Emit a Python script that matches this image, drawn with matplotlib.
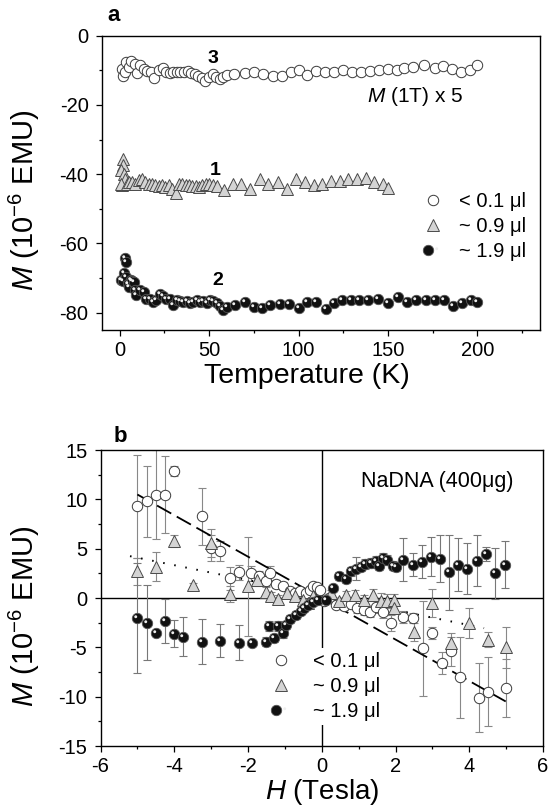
import numpy as np
import matplotlib
matplotlib.use("Agg")
import matplotlib.pyplot as plt
from matplotlib.path import Path
from matplotlib.legend_handler import HandlerTuple

plt.rcParams['font.family'] = ['Liberation Sans', 'DejaVu Sans']
plt.rcParams['mathtext.fontset'] = 'custom'
plt.rcParams['mathtext.rm'] = 'Liberation Sans'
plt.rcParams['mathtext.it'] = 'Liberation Sans:italic'
plt.rcParams['axes.unicode_minus'] = False

# ---- panel a : M(T) at 1 T ----
T_c = [1.5, 2, 3, 3.5, 5, 6.5, 8.5, 10, 11.5, 13.5, 15.5, 17.5, 19, 22, 24, 26, 28, 30, 32, 34,
       36, 38, 40, 42, 44, 46, 48, 50, 52, 54, 56, 58, 60, 64, 70, 75, 80, 86, 91, 96,
       100, 105, 110, 115, 120, 125, 130, 135, 140, 145, 150, 155, 159, 164, 170, 176, 181, 186, 191, 196, 200]
M_c = [-9.6, -11.6, -10.5, -7.7, -9.1, -7.2, -8.2, -10.8, -8.6, -9.6, -10.1, -10.4, -12.3, -9.8, -9.4, -10.4, -10.8, -10.6, -10.6, -10.4,
       -10.4, -10.1, -10.8, -11.1, -11.6, -12.2, -13.0, -11.8, -11.1, -12.0, -12.5, -11.8, -11.4, -11.1, -10.9, -10.6, -11.1, -11.7, -11.6, -10.6,
       -9.8, -11.4, -10.1, -10.4, -10.4, -9.8, -10.6, -10.4, -10.1, -9.8, -9.6, -9.8, -9.4, -9.1, -8.6, -9.4, -8.8, -9.6, -10.4, -9.8, -8.6]

T_t = [1.5, 2, 2, 1, 2.5, 3, 1, 4, 5, 6.8, 8.7, 10.6, 12.5, 14.3, 16.2, 18.1, 20, 21.9, 23.8, 25.6,
       27.5, 29.4, 31.3, 33.2, 35, 36.9, 38.8, 40.7, 42.6, 44.4, 46.3, 48.2, 50.1, 52.4, 54.3, 58.6, 63.3, 68, 72.7, 78.4,
       83.1, 88.7, 93.4, 98.8, 103.5, 108.4, 113.2, 118, 123, 127.8, 132.7, 137.5, 142.4, 147.3, 150]
M_t = [-43.0, -35.7, -37.3, -38.8, -39.8, -41.3, -42.7, -42.7, -42.2, -42.2, -42.7, -41.8, -41.5, -42.2, -42.7, -42.7, -43.2, -43.5, -43.2, -43.7,
       -43.2, -44.2, -45.5, -42.7, -42.7, -43.2, -43.2, -43.5, -43.5, -43.7, -43.2, -42.7, -42.7, -43.2, -43.5, -44.6, -42.7, -42.7, -44.4, -41.5,
       -42.7, -42.2, -44.2, -41.4, -42.2, -43.2, -42.9, -41.9, -41.9, -41.4, -41.3, -41.0, -42.2, -42.9, -43.9]

T_s = [1, 1.8, 2.4, 3.2, 3.5, 3.8, 4.7, 5.5, 6.2, 7, 8, 8.8, 9.4, 11.2, 13.7, 15, 16.9, 18.7, 20.6, 22.5,
       24.3, 26.2, 28.1, 30, 31.8, 33.7, 35.6, 37.5, 39.3, 41.2, 43.1, 45, 46.8, 48.7, 50.6, 52.4, 54.3, 56.2, 58, 59.9,
       64.6, 70.2, 74.9, 79.6, 84.3, 89.9, 94.6, 100.2, 104.9, 110, 115.2, 119.9, 124.5, 129.2, 133.9, 138.6, 144.6, 150, 155.4, 160.6,
       165.7, 171.3, 176, 181.2, 186.3, 191.4, 196.6, 200]
M_s = [-70.6, -70.8, -68.5, -64.3, -65.2, -69.6, -71.6, -72.5, -70.4, -70.9, -71.1, -73.3, -74.9, -73.5, -74.0, -75.9, -75.9, -76.9, -76.4, -74.5,
       -75.2, -75.9, -75.9, -77.8, -76.4, -76.6, -76.9, -76.6, -77.2, -76.9, -76.4, -76.9, -76.6, -77.2, -76.4, -76.6, -77.2, -78.1, -79.1, -78.4,
       -77.9, -76.9, -78.4, -78.6, -77.9, -77.4, -77.5, -78.5, -76.9, -76.9, -78.8, -77.2, -76.2, -76.4, -76.4, -76.2, -75.9, -77.2, -75.4, -76.9,
       -76.4, -76.4, -76.4, -76.2, -78.1, -77.2, -76.2, -76.9]

# ---- panel b : M(H) ----
H_c = [-5.0, -4.75, -4.5, -4.25, -4.0, -3.25, -3.0, -2.75, -2.5, -2.25, -1.92, -1.7, -1.5, -1.4, -1.25, -1.05, -0.85, -0.72, -0.58, -0.44,
       -0.33, -0.24, -0.14, -0.05, 0.07, 0.2, 0.39, 0.6, 0.8, 0.95, 1.15, 1.3, 1.47, 1.65, 1.88, 2.2, 2.46, 2.75, 3.0, 3.25,
       3.5, 3.75, 4.25, 4.5, 5.0]
Mb_c = [9.3, 9.8, 10.5, 10.5, 12.9, 8.3, 5.1, 4.8, 2.0, 2.6, 2.5, 2.2, 1.7, 2.5, 1.4, 1.2, 0.7, 0.5, 0.7, 0.5,
        0.8, 1.2, 1.1, 0.8, -0.3, 0.0, -0.7, -0.8, -0.6, -1.0, -1.2, -1.4, -0.9, -1.4, -2.5, -1.9, -2.0, -5.1, -3.5, -6.6,
        -5.4, -8.0, -10.1, -9.5, -9.1]
E_c = [5.2, 3.6, 4.5, 3.9, 0.5, 2.9, 1.3, 1.0, 1.2, 0.8, 0.8, 0.5, 0.5, 0.8, 0.4, 0.4, 0.3, 0.3, 0.3, 0.3,
       0.3, 0.3, 0.3, 0.3, 0.3, 0.3, 0.3, 0.4, 0.4, 0.5, 0.5, 0.5, 0.6, 0.6, 0.8, 0.6, 0.5, 4.8, 0.6, 1.1,
       1.5, 4.1, 3.5, 3.5, 2.9]

H_t = [-5.0, -4.5, -4.0, -3.5, -3.0, -2.5, -2.0, -1.75, -1.5, -1.38, -1.18, -0.95, -0.72, -0.52, -0.38, -0.24, 0.25, 0.47, 0.66, 0.89,
       1.15, 1.38, 1.6, 1.78, 1.96, 1.96, 2.5, 3.0, 3.5, 4.0, 4.5, 5.0]
Mb_t = [2.7, 3.2, 5.8, 1.3, 5.6, 0.4, 1.2, 1.8, 0.6, 0.2, -0.1, 0.5, 0.2, -0.2, -0.5, 0.2, 0.5, -0.3, 0.3, 0.3,
        -0.2, 0.3, -0.3, -0.3, -0.2, -1.0, -3.4, -0.5, -4.5, -2.5, -4.2, -5.0]
E_t = [1.4, 1.5, 0.6, 0.2, 1.4, 0.8, 5.0, 0.6, 0.5, 0.4, 0.4, 0.4, 0.3, 0.3, 0.3, 0.3, 0.3, 0.3, 0.4, 0.5,
       0.5, 0.6, 0.8, 0.7, 0.6, 0.6, 0.9, 1.4, 1.0, 1.5, 0.8, 2.1]

H_s = [-5.0, -4.75, -4.5, -4.25, -4.0, -3.75, -3.25, -2.75, -2.25, -1.9, -1.5, -1.42, -1.3, -1.18, -1.06, -0.97, -0.85, -0.71, -0.57, -0.47,
       -0.38, -0.24, -0.1, 0.12, 0.3, 0.48, 0.66, 0.79, 0.93, 1.06, 1.18, 1.33, 1.47, 1.56, 1.65, 1.78, 1.92, 2.01, 2.21, 2.46,
       2.71, 2.96, 3.2, 3.46, 3.7, 3.94, 4.2, 4.46, 4.71, 4.96]
Mb_s = [-2.0, -2.5, -3.5, -2.3, -3.6, -3.9, -4.4, -4.3, -4.5, -4.5, -4.4, -2.8, -4.0, -2.8, -3.5, -2.7, -2.1, -1.7, -1.35, -1.0,
        -0.7, -0.35, -0.2, -0.2, 1.0, 2.2, 1.9, 2.7, 3.0, 3.2, 3.5, 3.6, 3.8, 3.3, 4.1, 3.9, 3.3, 3.2, 3.9, 3.4,
        3.7, 4.2, 4.0, 2.6, 3.4, 3.0, 3.8, 4.5, 2.5, 3.4]
E_s = [5.6, 3.8, 0.0, 2.2, 1.4, 2.0, 2.3, 1.7, 1.8, 0.0, 0.5, 0.5, 0.4, 0.5, 0.5, 0.4, 0.4, 0.4, 0.3, 0.3,
       0.3, 0.3, 0.3, 0.3, 0.3, 0.4, 0.4, 0.5, 1.2, 0.5, 0.5, 0.5, 0.5, 0.5, 0.5, 0.5, 0.5, 0.5, 2.2, 1.2,
       1.7, 2.0, 2.4, 3.8, 2.7, 2.6, 2.6, 0.7, 2.6, 2.4]

# linear guides
fit_dash_H = [-5.0, 5.0]
fit_dash_slope = -2.1
fit_dot_H = [-5.2, 4.4]
fit_dot_slope, fit_dot_off = -0.76, 0.3

labels = ['< 0.1 \u03bcl', '~ 0.9 \u03bcl', '~ 1.9 \u03bcl']


def shine_path():
    # small highlight circle up-left, lone moveto keeps the marker scale
    circ = Path.unit_circle()
    verts = circ.vertices * 0.14 + np.array([-0.17, 0.17])
    verts = np.vstack([verts, [[0.5, 0.5]]])
    codes = np.concatenate([circ.codes, [Path.MOVETO]])
    return Path(verts, codes)


SHINE = shine_path()
ms = 7.5


def draw_sets(ax, xc, yc, xt, yt, xs, ys):
    hc, = ax.plot(xc, yc, ls='none', marker='o', ms=ms, mfc='white', mec='#3a3a3a', mew=0.7, zorder=4)
    ht, = ax.plot(xt, yt, ls='none', marker='^', ms=ms + 0.8, mfc='#d4d4d4', mec='#4a4a4a', mew=0.7, zorder=4)
    hb, = ax.plot(xs, ys, ls='none', marker='o', ms=ms, mfc='#111111', mec='#555555', mew=0.6, zorder=5)
    hh, = ax.plot(xs, ys, ls='none', marker=SHINE, ms=ms, mfc='#eeeeee', mec='none', zorder=6)
    return hc, ht, (hb, hh)


def style_axes(ax):
    ax.tick_params(which='both', direction='out', labelsize=14.5, width=0.9)
    ax.tick_params(which='major', length=4.5, pad=3.5)
    ax.tick_params(which='minor', length=2.5)
    ax.tick_params(axis='y', which='major', pad=5)
    for s in ax.spines.values():
        s.set_linewidth(1.0)


fig = plt.figure(figsize=(5.48, 8.11), dpi=100)

# panel a
axa = fig.add_axes([0.1856, 0.593, 0.8, 0.363])
hc, ht, hs = draw_sets(axa, T_c, M_c, T_t, M_t, T_s, M_s)
axa.set_xlim(-10, 235)
axa.set_ylim(-85, 0)
axa.set_xticks([0, 50, 100, 150, 200])
axa.set_xticks(np.arange(25, 235, 50), minor=True)
axa.set_yticks([0, -20, -40, -60, -80])
axa.set_yticks([-10, -30, -50, -70], minor=True)
style_axes(axa)
axa.set_xlabel('Temperature (K)', fontsize=20.5)
axa.xaxis.set_label_coords(0.468, -0.112)
axa.set_ylabel('$M$ (10$^{-6}$ EMU)', fontsize=21)
axa.yaxis.set_label_coords(-0.137, 0.44)
axa.text(52, -6.6, '3', fontsize=14, fontweight='bold', ha='center', va='center')
axa.text(53.4, -39.0, '1', fontsize=14, fontweight='bold', ha='center', va='center')
axa.text(55, -70.6, '2', fontsize=14, fontweight='bold', ha='center', va='center')
axa.text(165, -17.5, '$M$ (1T) x 5', fontsize=15, ha='center', va='center')
axa.legend([hc, ht, hs], labels, loc='upper left', bbox_to_anchor=(0.733, 0.468), frameon=False,
           fontsize=14.5, handlelength=1.0, handletextpad=0.8, labelspacing=0.3, borderpad=0,
           borderaxespad=0, handler_map={tuple: HandlerTuple(ndivide=None, pad=0)})

# panel b
axb = fig.add_axes([0.1834, 0.080, 0.8076, 0.365])
axb.axhline(0, color='black', lw=1.0, zorder=1)
axb.axvline(0, color='black', lw=1.0, zorder=1)
axb.errorbar(H_c, Mb_c, yerr=E_c, fmt='none', ecolor='#888888', elinewidth=0.8, capsize=3, capthick=0.8, zorder=2)
axb.errorbar(H_t, Mb_t, yerr=E_t, fmt='none', ecolor='#888888', elinewidth=0.8, capsize=3, capthick=0.8, zorder=2)
axb.errorbar(H_s, Mb_s, yerr=E_s, fmt='none', ecolor='#777777', elinewidth=0.8, capsize=3, capthick=0.8, zorder=2)
fdh = np.array(fit_dash_H)
axb.plot(fdh, fit_dash_slope * fdh, color='black', lw=1.3, dashes=(9, 3.5), zorder=3)
fdo = np.array(fit_dot_H)
axb.plot(fdo, fit_dot_off + fit_dot_slope * fdo, color='black', lw=1.4, dashes=(0.8, 5), zorder=3)
hc2, ht2, hs2 = draw_sets(axb, H_c, Mb_c, H_t, Mb_t, H_s, Mb_s)
axb.set_xlim(-6, 6)
axb.set_ylim(-15, 15)
axb.set_xticks(np.arange(-6, 7, 2))
axb.set_xticks(np.arange(-5, 6, 2), minor=True)
axb.set_yticks(np.arange(-15, 16, 5))
axb.set_yticks(np.arange(-12.5, 15, 5), minor=True)
style_axes(axb)
axb.set_xlabel('$H$ (Tesla)', fontsize=20)
axb.xaxis.set_label_coords(0.5, -0.105)
axb.set_ylabel('$M$ (10$^{-6}$ EMU)', fontsize=21)
axb.yaxis.set_label_coords(-0.133, 0.44)
axb.text(3.13, 11.8, 'NaDNA (400\u03bcg)', fontsize=15.5, ha='center', va='center')
legb = axb.legend([hc2, ht2, hs2], labels, loc='upper left', bbox_to_anchor=(0.376, 0.3315), frameon=True,
                  facecolor='white', edgecolor='none', framealpha=1.0, fancybox=False,
                  fontsize=14.5, handlelength=1.0, handletextpad=1.1, labelspacing=0.3, borderpad=0.2,
                  borderaxespad=0, handler_map={tuple: HandlerTuple(ndivide=None, pad=0)})
legb.set_zorder(10)

fig.text(0.207, 0.9815, 'a', fontsize=16, fontweight='bold', ha='center', va='center')
fig.text(0.22, 0.4615, 'b', fontsize=16, fontweight='bold', ha='center', va='center')

fig.savefig('out.png', dpi=100)
